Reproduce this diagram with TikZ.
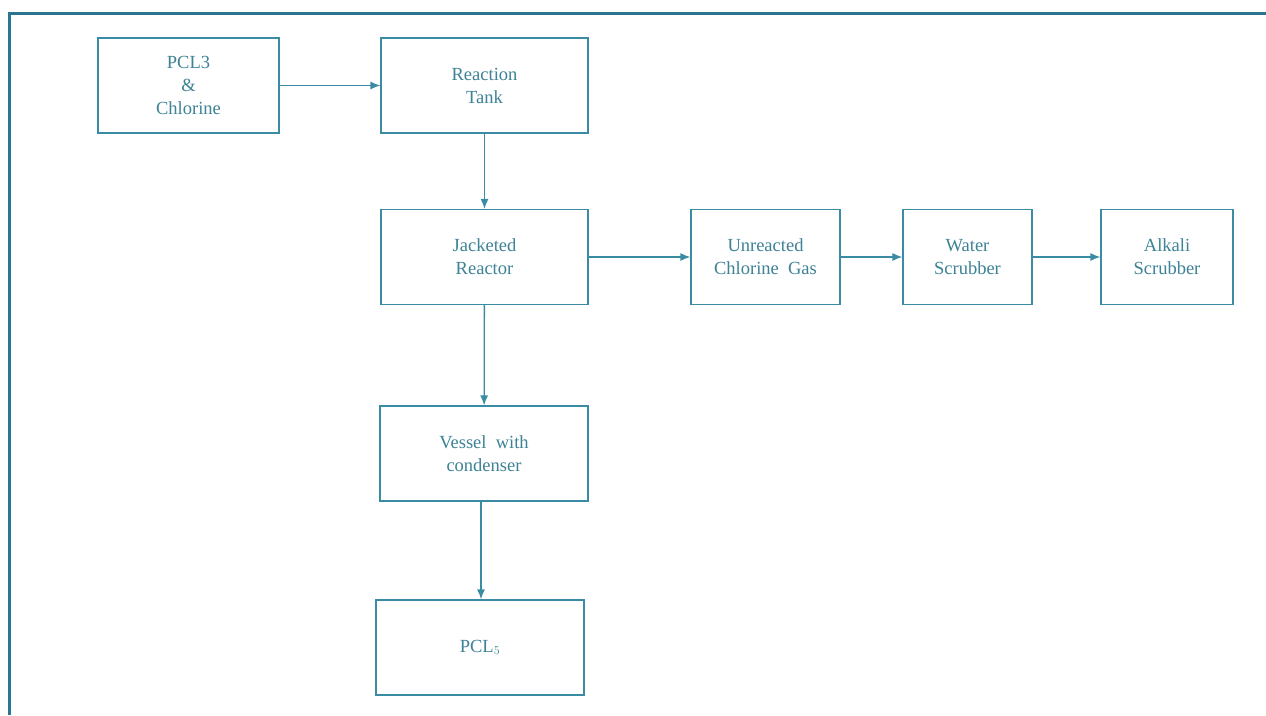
\documentclass[tikz,border=0pt]{standalone}
\usepackage{fontspec}
\setmainfont{Liberation Serif}
\usetikzlibrary{arrows.meta}
\definecolor{frame}{HTML}{2A7690}
\definecolor{boxc}{HTML}{3A8CA5}
\definecolor{txt}{HTML}{3D8296}
\begin{document}
\begin{tikzpicture}[x=1pt,y=-1pt,
  blk/.style={draw=boxc,line width=1.2pt,minimum width=#1,minimum height=95pt,inner sep=0pt,
    align=center,text=txt,font=\fontsize{18.5}{23}\selectfont},
  blk/.default=207pt,
  flow/.style={draw=boxc,line width=1.3pt,-{Latex[length=10pt,width=8pt]}}]
\useasboundingbox (0,0) rectangle (1266,715);
\fill[white] (0,0) rectangle (1266,715);
\draw[frame,line width=3pt] (9,715) -- (9,13) -- (1266,13);
\node[blk=181pt] (a) at (188.5,85.5) {PCL3\\\&\\Chlorine};
\node[blk] (b) at (484.5,85.5) {Reaction\\Tank};
\node[blk] (c) at (484.5,257) {Jacketed\\Reactor};
\node[blk=149pt] (d) at (765.5,257) {Unreacted\\Chlorine\ \ Gas};
\node[blk=129pt] (e) at (967.5,257) {Water\\Scrubber};
\node[blk=132pt] (f) at (1167,257) {Alkali\\Scrubber};
\node[blk=208pt] (g) at (484,453.5) {Vessel\ \ with\\condenser};
\node[blk=208pt] (h) at (480,647.5) {PCL$_5$};
\draw[flow] (a) -- (b);
\draw[flow] (b) -- (c);
\draw[flow] (c) -- (d);
\draw[flow] (d) -- (e);
\draw[flow] (e) -- (f);
\draw[flow] (c) -- (g);
\draw[flow] (g.south -| 481,0) -- (h.north -| 481,0);
\end{tikzpicture}
\end{document}
